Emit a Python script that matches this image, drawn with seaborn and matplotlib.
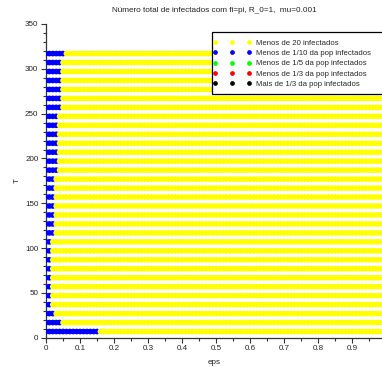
import numpy as np
import pandas as pd
import matplotlib
matplotlib.use("Agg")
import matplotlib.pyplot as plt
import seaborn as sns
from matplotlib.lines import Line2D
from matplotlib.patches import Rectangle
from matplotlib.ticker import MultipleLocator

# ---- data ----
T_values = [7, 17, 27, 37, 47, 57, 67, 77, 87, 97, 107, 117, 127, 137, 147, 157,
            167, 177, 187, 197, 207, 217, 227, 237, 247, 257, 267, 277, 287, 297, 307, 317]
# number of leading (smallest eps) cells that are blue in each row (bottom to top)
blue_counts = [16, 5, 3, 2, 2, 2, 2, 2, 2, 2, 2, 3, 3, 3, 3, 3,
               3, 3, 4, 4, 4, 4, 4, 4, 4, 5, 5, 5, 5, 5, 5, 6]
eps_values = np.round(np.arange(0.0, 1.0, 0.01), 2)

categories = ["Menos de 20 infectados",
              "Menos de 1/10 da pop infectados",
              "Menos de 1/5 da pop infectados",
              "Menos de 1/3 da pop infectados",
              "Mais de 1/3 da pop infectados"]
cat_colors = ["#ffff00", "#0000ff", "#00ff00", "#ff0000", "#000000"]

title = "Número total de infectados com fi=pi, R_0=1,  mu=0.001"

rows = []
for T, nb in zip(T_values, blue_counts):
    for i, e in enumerate(eps_values):
        rows.append((e, T, categories[1] if i < nb else categories[0]))
df = pd.DataFrame(rows, columns=["eps", "T", "cat"])

sns.set_style("ticks")
plt.rcParams['font.family'] = ['Liberation Sans', 'DejaVu Sans']

fig = plt.figure(figsize=(3.82, 3.67), dpi=100)
ax = fig.add_axes([46/382, (367-337.8)/367, 336/382, 313.8/367])

palette = dict(zip(categories, cat_colors))
sns.scatterplot(data=df, x="eps", y="T", hue="cat", palette=palette,
                s=17, linewidth=0, legend=False, ax=ax, zorder=3)

ax.set_xlim(0, 0.987)
ax.set_ylim(0, 350)
ax.xaxis.set_minor_locator(MultipleLocator(0.05))
ax.yaxis.set_major_locator(MultipleLocator(50))
ax.yaxis.set_minor_locator(MultipleLocator(10))
ax.set_xticks(np.round(np.arange(0, 1.0, 0.1), 1))
ax.set_xticklabels(["0"] + [f"{v:.1f}" for v in np.arange(0.1, 0.95, 0.1)])
ax.tick_params(which="major", length=3.5, width=0.8, color="#333333",
               labelsize=5.8, labelcolor="#222222", pad=2)
ax.tick_params(which="minor", length=2, width=0.8, color="#333333")
for s in ["top", "right"]:
    ax.spines[s].set_visible(False)
for s in ["left", "bottom"]:
    ax.spines[s].set_color("#333333")
    ax.spines[s].set_linewidth(0.9)

ax.set_xlabel("eps", fontsize=5.8, color="#222222", labelpad=5)
ax.set_ylabel("T", fontsize=5.8, color="#222222", labelpad=3)
ax.set_title(title, fontsize=5.9, color="#222222", pad=9)

# legend frame (extends beyond the right edge of the figure, as in the reference)
box = Rectangle((0.493, 0.776), 0.6, 0.1995, transform=ax.transAxes,
                facecolor="white", edgecolor="black", linewidth=0.9,
                clip_on=False, zorder=4)
ax.add_patch(box)

handles = [Line2D([0], [0], linestyle="none", marker="o", markersize=3.4,
                  markerfacecolor=c, markeredgewidth=0) for c in cat_colors]
leg = ax.legend(handles, categories, numpoints=3, loc="upper left",
                bbox_to_anchor=(0.496, 0.951), borderaxespad=0,
                fontsize=5.6, frameon=False, handlelength=4.97,
                handletextpad=0.59, labelspacing=0.36, borderpad=0)
leg.set_zorder(5)

fig.savefig("out.png", dpi=100)
